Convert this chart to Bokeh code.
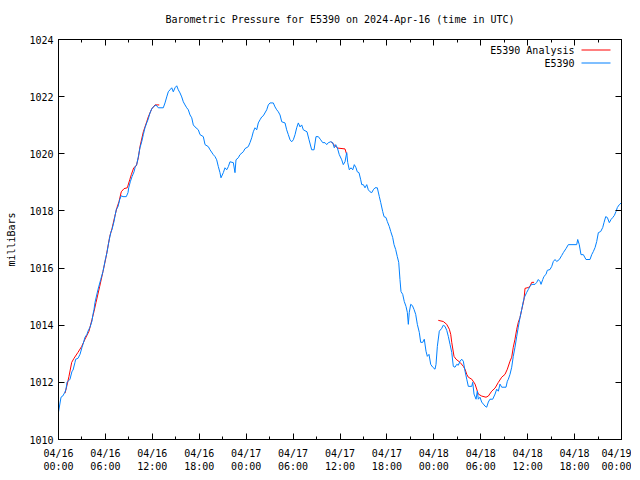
from bokeh.plotting import figure
from bokeh.models import FixedTicker, LinearAxis, Range1d, Label, BoxAnnotation
from bokeh.embed import file_html
from bokeh.resources import INLINE

# ---------------- data ----------------
title_text = "Barometric Pressure for E5390 on 2024-Apr-16 (time in UTC)"
y_label = "milliBars"
series_names = ["E5390 Analysis", "E5390"]
series_colors = ["#ff0000", "#0080ff"]

x_tick_hours = [0, 6, 12, 18, 24, 30, 36, 42, 48, 54, 60, 66, 72]
x_tick_labels = ["04/16\n00:00", "04/16\n06:00", "04/16\n12:00", "04/16\n18:00",
                 "04/17\n00:00", "04/17\n06:00", "04/17\n12:00", "04/17\n18:00",
                 "04/18\n00:00", "04/18\n06:00", "04/18\n12:00", "04/18\n18:00",
                 "04/19\n00:00"]
y_ticks = [1010, 1012, 1014, 1016, 1018, 1020, 1022, 1024]

# observed station pressure (hours since 2024-04-16 00:00 UTC, mb)
obs_hours = [
    0.00, 0.32, 0.54, 0.83, 0.96, 1.09, 1.47, 1.73, 1.85, 2.11,
    2.20, 2.49, 2.75, 3.01, 3.13, 3.39, 3.64, 3.77, 4.03, 4.28,
    4.41, 4.54, 4.67, 5.05, 5.40, 5.69, 5.99, 6.20, 6.42, 6.68,
    6.84, 7.10, 7.26, 7.39, 7.61, 7.83, 8.03, 8.25, 8.67, 8.89,
    8.98, 9.18, 9.40, 9.66, 9.82, 10.00, 10.21, 10.42, 10.64, 10.85,
    11.06, 11.28, 11.48, 11.70, 11.92, 12.12, 12.47, 12.76, 13.40, 13.62,
    13.84, 14.04, 14.26, 14.48, 14.68, 14.90, 15.12, 15.32, 15.54, 15.76,
    15.96, 16.18, 16.40, 16.60, 16.82, 17.04, 17.24, 17.46, 17.88, 18.10,
    18.52, 18.74, 19.16, 19.38, 19.80, 20.02, 20.23, 20.44, 20.65, 20.78,
    21.08, 21.29, 21.51, 21.72, 21.93, 22.36, 22.57, 22.70, 22.99, 23.21,
    23.63, 23.85, 24.27, 24.49, 24.71, 24.91, 25.13, 25.35, 25.55, 25.77,
    25.99, 26.19, 26.63, 26.83, 27.05, 27.47, 27.69, 27.91, 28.11, 28.33,
    28.55, 28.97, 29.18, 29.39, 29.61, 29.82, 30.03, 30.25, 30.46, 30.67,
    30.89, 31.10, 31.31, 31.78, 32.04, 32.38, 32.68, 32.93, 33.23, 33.53,
    33.79, 34.08, 34.30, 34.51, 34.81, 35.07, 35.27, 35.45, 35.66, 35.91,
    36.22, 36.42, 36.64, 36.86, 36.99, 37.19, 37.41, 37.63, 37.83, 38.05,
    38.21, 38.43, 38.65, 38.78, 38.98, 39.20, 39.42, 39.62, 39.84, 40.06,
    40.26, 40.48, 40.77, 41.03, 41.21, 41.46, 41.63, 41.88, 42.05, 42.31,
    42.49, 42.74, 42.91, 43.12, 43.33, 43.51, 43.67, 43.80, 44.02, 44.22,
    44.44, 44.61, 44.74, 44.86, 45.04, 45.25, 45.47, 45.68, 45.89, 46.14,
    46.32, 46.58, 46.78, 47.00, 47.17, 47.38, 47.60, 47.86, 48.15, 48.28,
    48.45, 48.70, 49.01, 49.21, 49.43, 49.65, 49.85, 50.07, 50.29, 50.49,
    50.71, 50.93, 51.13, 51.35, 51.57, 51.77, 51.99, 52.21, 52.41, 52.85,
    52.97, 53.14, 53.40, 53.56, 53.69, 53.90, 54.12, 54.33, 54.54, 54.76,
    54.97, 55.18, 55.53, 55.83, 56.04, 56.25, 56.46, 56.68, 57.23, 57.40,
    57.53, 57.74, 57.96, 58.16, 58.38, 58.60, 58.80, 59.02, 59.24, 59.44,
    59.57, 59.88, 60.08, 60.30, 60.52, 60.94, 61.16, 61.36, 61.58, 61.71,
    61.93, 62.09, 62.35, 62.51, 62.86, 63.08, 63.28, 63.50, 63.71, 64.05,
    64.35, 64.56, 64.90, 65.20, 66.27, 66.40, 66.60, 66.82, 67.12, 67.46,
    67.97, 68.19, 68.40, 68.62, 68.83, 69.04, 69.34, 69.60, 69.76, 69.98,
    70.19, 70.44, 70.66, 70.88, 71.08, 71.30, 71.47, 71.72, 72.00,
]
obs_mb = [
    1010.96, 1011.48, 1011.52, 1011.66, 1011.76, 1012.00, 1012.11, 1012.39, 1012.42, 1012.70,
    1012.81, 1012.84, 1012.98, 1013.23, 1013.33, 1013.58, 1013.68, 1013.79, 1013.93, 1014.14,
    1014.38, 1014.55, 1014.80, 1015.25, 1015.60, 1015.88, 1016.30, 1016.54, 1016.89, 1017.24,
    1017.35, 1017.63, 1017.87, 1018.05, 1018.15, 1018.40, 1018.53, 1018.50, 1018.50, 1018.64,
    1018.81, 1019.02, 1019.20, 1019.37, 1019.55, 1019.62, 1019.90, 1020.21, 1020.42, 1020.67,
    1020.91, 1021.08, 1021.22, 1021.43, 1021.57, 1021.64, 1021.71, 1021.61, 1021.61, 1021.78,
    1021.99, 1022.17, 1022.24, 1022.31, 1022.17, 1022.31, 1022.38, 1022.24, 1022.13, 1021.99,
    1021.82, 1021.71, 1021.61, 1021.54, 1021.36, 1021.26, 1021.01, 1020.94, 1020.84, 1020.67,
    1020.60, 1020.32, 1020.25, 1020.14, 1019.97, 1019.90, 1019.79, 1019.55, 1019.34, 1019.16,
    1019.34, 1019.51, 1019.44, 1019.55, 1019.72, 1019.69, 1019.34, 1019.79, 1019.86, 1019.97,
    1020.07, 1020.18, 1020.25, 1020.39, 1020.56, 1020.77, 1020.91, 1020.84, 1021.08, 1021.19,
    1021.29, 1021.33, 1021.54, 1021.71, 1021.78, 1021.78, 1021.64, 1021.54, 1021.47, 1021.36,
    1021.12, 1021.08, 1020.84, 1020.67, 1020.49, 1020.42, 1020.49, 1020.67, 1020.91, 1021.08,
    1020.94, 1021.01, 1020.84, 1020.77, 1020.49, 1020.14, 1020.14, 1020.60, 1020.60, 1020.49,
    1020.39, 1020.39, 1020.32, 1020.39, 1020.42, 1020.39, 1020.21, 1020.32, 1020.21, 1019.97,
    1019.79, 1019.62, 1019.72, 1020.04, 1019.69, 1019.44, 1019.51, 1019.44, 1019.62, 1019.51,
    1019.37, 1019.34, 1019.09, 1018.92, 1018.92, 1018.81, 1018.92, 1018.74, 1018.67, 1018.64,
    1018.74, 1018.81, 1018.81, 1018.50, 1018.29, 1017.98, 1017.80, 1017.77, 1017.63, 1017.45,
    1017.28, 1017.07, 1016.82, 1016.65, 1016.40, 1016.20, 1015.60, 1015.18, 1015.08, 1014.83,
    1014.66, 1014.45, 1014.03, 1014.45, 1014.73, 1014.69, 1014.55, 1014.38, 1014.03, 1013.75,
    1013.40, 1013.40, 1013.51, 1013.09, 1012.91, 1012.98, 1012.63, 1012.53, 1012.46, 1012.63,
    1013.26, 1013.79, 1013.89, 1014.00, 1013.96, 1013.82, 1013.61, 1013.33, 1013.05, 1012.56,
    1012.53, 1012.63, 1012.60, 1012.74, 1012.81, 1012.74, 1012.39, 1012.11, 1011.86, 1011.86,
    1012.00, 1011.59, 1011.41, 1011.69, 1011.41, 1011.48, 1011.31, 1011.24, 1011.17, 1011.13,
    1011.31, 1011.41, 1011.41, 1011.59, 1011.76, 1011.69, 1011.94, 1011.83, 1011.83, 1012.04,
    1012.11, 1012.28, 1012.53, 1012.91, 1013.23, 1013.61, 1013.93, 1014.27, 1014.55, 1014.83,
    1014.97, 1015.15, 1015.25, 1015.36, 1015.43, 1015.43, 1015.50, 1015.60, 1015.53, 1015.43,
    1015.60, 1015.71, 1015.78, 1015.92, 1015.95, 1016.06, 1016.23, 1016.30, 1016.23, 1016.30,
    1016.44, 1016.54, 1016.68, 1016.82, 1016.82, 1017.00, 1016.82, 1016.47, 1016.47, 1016.30,
    1016.30, 1016.47, 1016.58, 1016.72, 1016.93, 1017.24, 1017.28, 1017.42, 1017.59, 1017.80,
    1017.77, 1017.59, 1017.70, 1017.77, 1017.84, 1017.98, 1018.12, 1018.22, 1018.29,
]

# analysis (three separate spans)
ana1_hours = [0.83, 1.09, 1.34, 1.69, 1.98, 2.49, 2.97, 3.39, 3.90, 4.28,
              4.54, 4.80, 5.27, 5.69, 6.07, 6.55, 6.84, 7.19, 7.48, 7.74,
              8.03, 8.38, 8.80, 9.11, 9.31, 9.62, 9.95, 10.21, 10.42, 10.85,
              11.06, 11.28, 11.48, 11.92, 12.34, 12.89]
ana1_mb = [1011.62, 1011.90, 1012.21, 1012.70, 1012.84, 1013.05, 1013.26, 1013.51, 1013.79, 1014.20,
           1014.48, 1014.80, 1015.36, 1015.88, 1016.37, 1017.10, 1017.38, 1017.80, 1018.12, 1018.33,
           1018.67, 1018.78, 1018.81, 1019.09, 1019.27, 1019.51, 1019.58, 1019.86, 1020.25, 1020.77,
           1020.94, 1021.12, 1021.29, 1021.57, 1021.71, 1021.71]
ana2_hours = [34.85, 35.36, 35.71, 36.64, 36.86]
ana2_mb = [1020.43, 1020.28, 1020.20, 1020.17, 1019.97]
ana3_hours = [48.57, 49.21, 49.65, 49.98, 50.16, 50.29, 50.58, 50.84, 51.35, 51.77,
              51.99, 52.21, 52.41, 52.85, 53.27, 53.69, 54.12, 54.67, 54.97, 55.40,
              55.83, 56.25, 56.68, 57.10, 57.40, 57.74, 57.96, 58.16, 58.38, 58.60,
              58.80, 59.02, 59.24, 59.53, 59.66, 60.08, 60.30, 60.52, 60.82]
ana3_mb = [1014.17, 1014.13, 1014.03, 1013.86, 1013.68, 1013.40, 1012.91, 1012.81, 1012.70, 1012.56,
           1012.46, 1012.28, 1012.18, 1012.11, 1011.94, 1011.59, 1011.52, 1011.48, 1011.52, 1011.69,
           1011.80, 1012.00, 1012.18, 1012.28, 1012.46, 1012.74, 1012.88, 1013.23, 1013.51, 1013.86,
           1014.10, 1014.27, 1014.55, 1014.90, 1015.29, 1015.32, 1015.36, 1015.50, 1015.50]

# ---------------- plot ----------------
FONT = "DejaVu Sans Mono"
FS = "10px"
FRAME_W, FRAME_H = 563, 400

p = figure(frame_width=FRAME_W, frame_height=FRAME_H,
           x_range=Range1d(x_tick_hours[0], x_tick_hours[-1]),
           y_range=Range1d(y_ticks[0], y_ticks[-1]),
           output_backend="svg", toolbar_location=None,
           min_border_left=58, min_border_right=10,
           min_border_top=39, min_border_bottom=30)
p.background_fill_color = "white"
p.border_fill_color = "white"
p.outline_line_color = "black"
p.outline_line_width = 1
p.grid.visible = False

p.title.text = title_text
p.title.align = "center"
p.title.vertical_align = "top"
p.title.text_font = FONT
p.title.text_font_size = FS
p.title.text_font_style = "normal"
p.title.text_color = "black"
p.title.standoff = 25

minor_x = [(a + b) / 2 for a, b in zip(x_tick_hours[:-1], x_tick_hours[1:])]
xt = FixedTicker(ticks=x_tick_hours, minor_ticks=minor_x)
yt = FixedTicker(ticks=y_ticks, minor_ticks=[])

xa = p.xaxis[0]
xa.ticker = xt
xa.major_label_overrides = {h: lab for h, lab in zip(x_tick_hours, x_tick_labels)}
ya = p.yaxis[0]
ya.ticker = yt
ya.axis_label = y_label
ya.axis_label_standoff = 9
ya.axis_label_text_font_style = "normal"

for ax in (xa, ya):
    ax.major_label_text_font = FONT
    ax.major_label_text_font_size = FS
    ax.major_label_text_color = "black"
    ax.axis_label_text_font = FONT
    ax.axis_label_text_font_size = FS
    ax.axis_label_text_color = "black"
    ax.axis_line_color = "black"
    ax.major_tick_line_color = "black"
    ax.minor_tick_line_color = "black"
    ax.major_tick_in = 6
    ax.major_tick_out = 0
    ax.minor_tick_in = 3
    ax.minor_tick_out = 0
    ax.major_label_standoff = 5
xa.major_label_standoff = 8

# mirrored ticks (top and right)
for loc, tk in (("above", xt), ("right", yt)):
    ax = LinearAxis(ticker=tk)
    ax.major_label_overrides = {t: "" for t in tk.ticks}
    ax.major_label_text_font_size = "0px"
    ax.major_label_standoff = 0
    ax.axis_line_color = "black"
    ax.major_tick_line_color = "black"
    ax.minor_tick_line_color = "black"
    ax.major_tick_in = 6
    ax.major_tick_out = 0
    ax.minor_tick_in = 3
    ax.minor_tick_out = 0
    p.add_layout(ax, loc)

# analysis first, observations on top
for hrs, mbs in ((ana1_hours, ana1_mb), (ana2_hours, ana2_mb), (ana3_hours, ana3_mb)):
    p.line(hrs, mbs, line_color=series_colors[0], line_width=1)
p.line(obs_hours, obs_mb, line_color=series_colors[1], line_width=1)

# gnuplot-style key: label right-aligned, sample line to its right
key_text_right = FRAME_W - 47
key_line_left = FRAME_W - 40
key_line_right = FRAME_W - 11
key_rows = [FRAME_H - 11, FRAME_H - 24]
for name, color, ky in zip(series_names, series_colors, key_rows):
    p.add_layout(Label(x=key_text_right, y=ky, x_units="screen", y_units="screen",
                       text=name, text_align="right", text_baseline="middle",
                       text_font=FONT, text_font_size=FS, text_color="black"))
    p.add_layout(BoxAnnotation(left=key_line_left, right=key_line_right,
                               bottom=ky, top=ky + 1,
                               left_units="screen", right_units="screen",
                               bottom_units="screen", top_units="screen",
                               fill_color=color, fill_alpha=1.0, line_color=None))

open("out.html", "w").write(file_html(p, INLINE))
